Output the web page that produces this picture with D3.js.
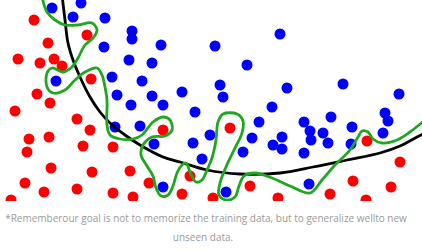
<!DOCTYPE html>
<html>
<head>
<meta charset="utf-8">
<script src="https://cdn.jsdelivr.net/npm/d3@7"></script>
<style>
  html, body { margin: 0; padding: 0; background: #fff; }
  svg { display: block; }
</style>
</head>
<body>
<div id="chart"></div>
<script>
// feature-space coordinates: x1 in [0,422], x2 in [0,200] (x2 upward)
const blueX1 = [52,81,73,105,132,132,104,129,112,56,117,142,161,215,152,247,152,182,220,223,280,287,343,399,131,115,140,163,195,154,193,210,202,272,259,252,243,273,282,282,304,331,310,311,323,328,304,352,351,385,388,383,309,163,226];
const blueX2 = [192,197,183,182,169,161,153,140,123,119,105,119,155,154,137,135,104,108,115,103,166,112,116,106,95,73,74,95,88,56,57,65,41,93,78,62,48,55,63,51,78,83,69,60,67,57,47,73,56,87,79,67,16,13,8];

const redX1 = [34,87,48,18,40,54,62,91,37,50,15,77,90,29,49,27,83,113,51,92,130,25,44,77,113,133,11,163,230,149,190,182,250,213,278,367,400,353,391,330,366];
const redX2 = [180,165,157,141,137,141,134,121,106,97,89,81,70,61,63,48,54,53,32,28,29,17,8,11,7,3,0,70,72,17,24,6,14,2,2,59,38,19,13,6,0];

// smooth (true) decision boundary
const boundaryX1 = [62,65,68,73,80,90,100,110,125,140,163,180,207,240,280,313,347,380,400,417,425];
const boundaryX2 = [205,180,157,140,123,103,88,77,65,55,43,38,30,26,27,33,40,47,54,63,67];

// overfitted boundary
const overfitX1 = [42,47,55,65,78,92,97,93,85,78,72,63,52,47,47,53,65,75,85,97,102,105,107,107,110,120,133,142,153,163,170,172,165,152,143,141,147,153,156,161,168,173,177,182,186,190,196,202,207,212,216,218,223,237,243,242,234,226,220,219,226,235,239,244,255,272,290,310,322,335,350,358,362,368,373,382,397,410,425];
const overfitX2 = [203,188,180,175,175,177,170,162,155,142,133,128,132,127,113,107,110,120,128,132,125,113,100,75,65,61,61,65,78,83,80,70,64,63,55,45,34,24,12,4,5,14,27,35,37,28,18,20,30,42,60,78,86,86,79,67,50,33,17,5,0,3,14,24,27,22,14,7,20,35,50,63,69,68,61,57,60,68,80];

const captionLines = [
  "*Rememberour goal is not to memorize the training data, but to generalize wellto new",
  "unseen data."
];

const W = 422, H = 250, plotH = 201;

const svg = d3.select("#chart").append("svg")
  .attr("width", W).attr("height", H);

const x = d3.scaleLinear().domain([0, 422]).range([0, 422]);
const y = d3.scaleLinear().domain([0, 200]).range([200, 0]);

svg.append("defs").append("clipPath").attr("id", "plotclip")
  .append("rect").attr("x", 0).attr("y", 0).attr("width", W).attr("height", plotH);

const g = svg.append("g").attr("clip-path", "url(#plotclip)");

const blue = blueX1.map((v, i) => ({x1: v, x2: blueX2[i]}));
const red = redX1.map((v, i) => ({x1: v, x2: redX2[i]}));
const boundary = boundaryX1.map((v, i) => [v, boundaryX2[i]]);
const overfit = overfitX1.map((v, i) => [v, overfitX2[i]]);

g.selectAll("circle.red").data(red).enter().append("circle")
  .attr("class", "red")
  .attr("cx", d => x(d.x1)).attr("cy", d => y(d.x2))
  .attr("r", 5.5).attr("fill", "#ff0000");

g.selectAll("circle.blue").data(blue).enter().append("circle")
  .attr("class", "blue")
  .attr("cx", d => x(d.x1)).attr("cy", d => y(d.x2))
  .attr("r", 5.5).attr("fill", "#0000ff");

const line = d3.line().x(d => x(d[0])).y(d => y(d[1])).curve(d3.curveCatmullRom.alpha(0.5));

g.append("path").datum(boundary).attr("d", line)
  .attr("fill", "none").attr("stroke", "#000").attr("stroke-width", 2.8);

g.append("path").datum(overfit).attr("d", line)
  .attr("fill", "none").attr("stroke", "#1fa81f").attr("stroke-width", 2.8)
  .attr("stroke-linejoin", "round");

svg.append("text").attr("x", 206).attr("y", 222)
  .attr("text-anchor", "middle")
  .attr("font-family", "'Open Sans', sans-serif").attr("font-size", 10)
  .attr("fill", "#9a9a9a")
  .text(captionLines[0]);

svg.append("text").attr("x", 203).attr("y", 241)
  .attr("text-anchor", "middle")
  .attr("font-family", "'Open Sans', sans-serif").attr("font-size", 10)
  .attr("fill", "#9a9a9a")
  .text(captionLines[1]);
</script>
</body>
</html>
